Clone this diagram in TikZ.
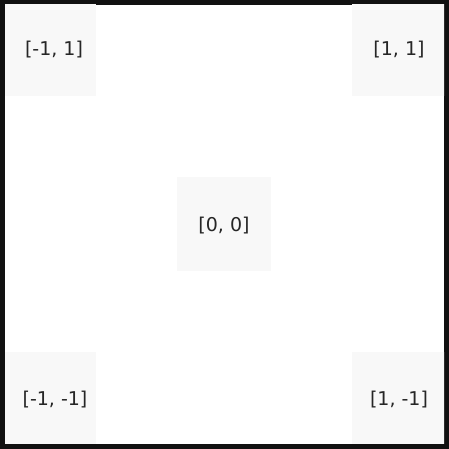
\documentclass[tikz,border=0pt]{standalone}
\usepackage{fontspec}
\setmainfont{DejaVu Sans}
\definecolor{boxgray}{RGB}{248,248,248}
\definecolor{framec}{RGB}{17,17,17}
\begin{document}
\begin{tikzpicture}[x=1pt,y=1pt,
  cellfont/.style={font=\fontsize{19}{23}\selectfont, text=black!85},
  cell/.style={fill=boxgray, draw=none, minimum width=94pt, minimum height=94pt, inner sep=0pt}]
\useasboundingbox (0,0) rectangle (449,449);
\fill[framec] (0,0) rectangle (449,449);
\fill[white] (5,5) rectangle (444,444);
\begin{scope}
\clip (5,5) rectangle (444,444);
\node[cell, label={[cellfont, yshift=-1.5pt]center:[0, 0]}] (c00) at (224,224.5) {};
\node[cell, label={[cellfont, xshift=5pt, yshift=-1pt]center:[-1, 1]}] (cm1p1) at (49,400) {};
\node[cell, label={[cellfont, yshift=-1pt]center:[1, 1]}] (cp1p1) at (399,400) {};
\node[cell, label={[cellfont, xshift=6pt, yshift=-1pt]center:[-1, -1]}] (cm1m1) at (49,50) {};
\node[cell, label={[cellfont, yshift=-1pt]center:[1, -1]}] (cp1m1) at (399,50) {};
\end{scope}
\end{tikzpicture}
\end{document}
